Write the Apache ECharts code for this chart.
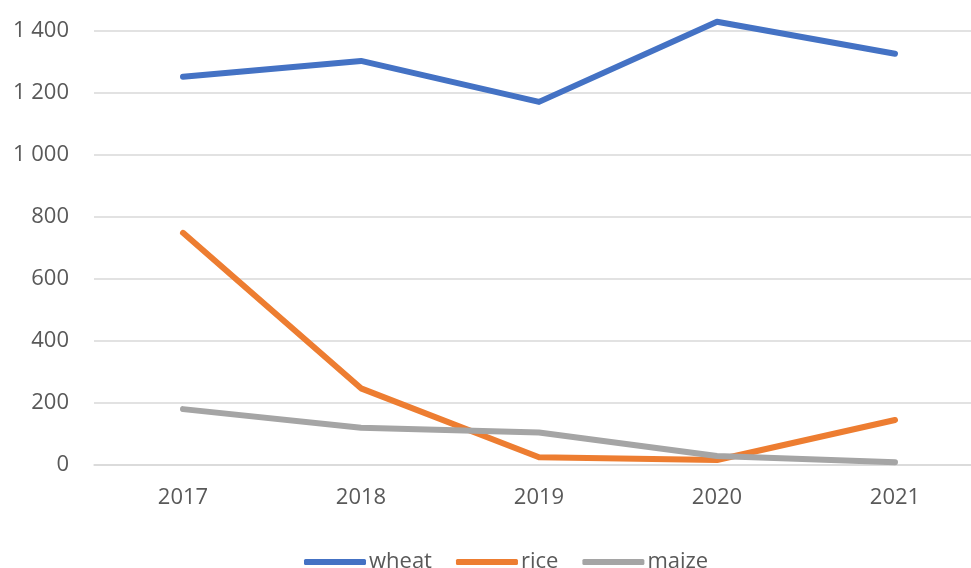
<!DOCTYPE html>
<html><head><meta charset="utf-8">
<script src="https://cdn.jsdelivr.net/npm/echarts@6/dist/echarts.min.js"></script>
<style>html,body{margin:0;padding:0;background:#fff;overflow:hidden}#c{width:984px;height:568px}</style>
</head><body><div id="c"></div>
<script>
const categories = ['2017','2018','2019','2020','2021'];
const wheat = [1251, 1302, 1170, 1428, 1325];
const rice = [748, 247, 25, 16, 145];
const maize = [180, 120, 105, 29, 9];
const seriesNames = ['wheat','rice','maize'];
const colors = ['#4472C4','#ED7D31','#A5A5A5'];

const font = 'Open Sans';
const chart = echarts.init(document.getElementById('c'));
const mk = (name, data, color) => ({
  name, type: 'line', data, symbol: 'none', color, clip: false,
  lineStyle: { width: 6, color, cap: 'round', join: 'round' }
});
chart.setOption({
  animation: false,
  grid: { left: 94, right: 0, top: 30.5, bottom: 103, containLabel: false },
  legend: {
    data: seriesNames, left: 299, top: 546, icon: 'roundRect',
    itemWidth: 62, itemHeight: 6, itemGap: 24,
    textStyle: { fontFamily: font, fontSize: 22, color: '#595959', padding: [0,0,0,-2] }
  },
  xAxis: {
    type: 'category', data: categories, boundaryGap: true,
    axisLine: { show: true, lineStyle: { color: '#D9D9D9', width: 1.5 } },
    axisTick: { show: false },
    axisLabel: { fontFamily: font, fontSize: 22, color: '#595959', margin: 22 }
  },
  yAxis: {
    type: 'value', min: 0, max: 1400, interval: 200,
    axisLine: { show: false }, axisTick: { show: false },
    splitLine: { lineStyle: { color: '#D9D9D9', width: 1.5 } },
    axisLabel: { fontFamily: font, fontSize: 22, color: '#595959', margin: 25,
      formatter: v => String(v).replace(/\B(?=(\d{3})+(?!\d))/g, ' ') }
  },
  series: [mk('wheat', wheat, colors[0]), mk('rice', rice, colors[1]), mk('maize', maize, colors[2])]
});
</script></body></html>
